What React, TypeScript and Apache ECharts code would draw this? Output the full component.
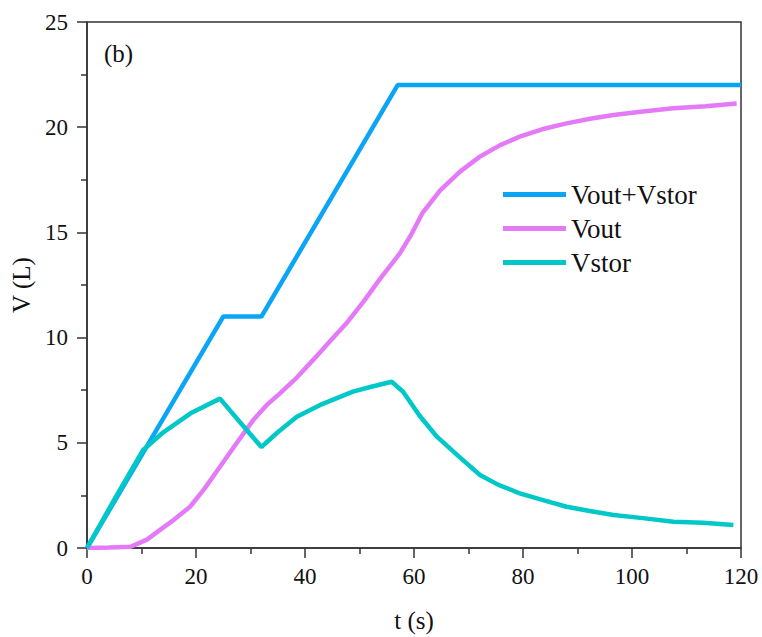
import React, { useEffect, useRef } from "react";
import * as echarts from "echarts";

const seriesNames = ["Vout+Vstor", "Vout", "Vstor"];
const colors = ["#0AA5F5", "#E57AF8", "#00C8C8"];

const vTotal: [number, number][] = [
  [0, 0], [25, 11], [32, 11], [57, 22], [120, 22],
];

const vOut: [number, number][] = [
  [0, 0], [4, 0.02], [8, 0.06], [11, 0.4], [13.4, 0.86], [16, 1.35], [18.9, 1.96], [21.5, 2.8],
  [24.4, 3.86], [27.5, 5.0], [30.5, 6.08], [33, 6.8], [35.4, 7.35], [38.5, 8.1], [41.5, 8.94],
  [44.5, 9.8], [47.6, 10.68], [50.7, 11.7], [53.8, 12.8], [57.4, 14.0], [59.5, 14.9], [61.5, 15.9],
  [64.8, 17.0], [68.5, 17.9], [72.1, 18.6], [75.8, 19.15], [79.4, 19.55], [83.5, 19.9],
  [88, 20.18], [92.3, 20.4], [96.6, 20.58], [102, 20.75], [107.6, 20.9], [113.5, 21.0], [119.2, 21.13],
];

const vStor: [number, number][] = [
  [0, 0], [5, 2.3], [10.3, 4.66], [14, 5.5], [19, 6.4], [24.4, 7.1], [28, 6.0], [32, 4.8],
  [35, 5.5], [38.5, 6.24], [42.8, 6.8], [48.8, 7.43], [52, 7.65], [55.9, 7.9], [58, 7.43],
  [61, 6.3], [64.2, 5.29], [68, 4.4], [72.1, 3.47], [75.5, 3.0], [79.4, 2.6], [84, 2.25],
  [88, 1.96], [92, 1.77], [96.6, 1.57], [102, 1.42], [107.6, 1.25], [113, 1.2], [118.6, 1.09],
];

const xTicks = [0, 20, 40, 60, 80, 100, 120];
const yTicks = [0, 5, 10, 15, 20, 25];

export default function App() {
  const ref = useRef<HTMLDivElement>(null);
  useEffect(() => {
    if (!ref.current) return;
    const chart = echarts.init(ref.current, null, { renderer: "svg" });
    const font = "Times New Roman";
    const axisColor = "#333";
    const tickStyle = { color: axisColor, width: 1.5 };
    chart.setOption({
      animation: false,
      backgroundColor: "#fff",
      textStyle: { fontFamily: font },
      grid: {
        left: 87, right: 21, top: 22, bottom: 89,
        containLabel: false, outerBoundsMode: "none",
        show: true, borderColor: axisColor, borderWidth: 1.5, backgroundColor: "transparent",
      },
      legend: {
        data: seriesNames,
        orient: "vertical",
        left: 503, top: 181, padding: 0,
        icon: "rect",
        itemWidth: 63, itemHeight: 5,
        itemGap: 7,
        textStyle: { fontFamily: font, fontSize: 27, lineHeight: 27, color: "#111" },
      },
      graphic: [
        { type: "text", left: 104, top: 41, style: { text: "(b)", fontFamily: font, fontSize: 25, fill: "#111" } },
      ],
      xAxis: {
        type: "value", min: xTicks[0], max: xTicks[xTicks.length - 1], interval: 20,
        name: "t (s)", nameLocation: "middle", nameGap: 60,
        nameTextStyle: { fontFamily: font, fontSize: 25, color: "#111" },
        axisLine: { show: true, lineStyle: tickStyle },
        axisTick: { show: true, inside: false, length: 10, lineStyle: tickStyle },
        minorTick: { show: true, splitNumber: 2, length: 6, lineStyle: tickStyle },
        axisLabel: { fontFamily: font, fontSize: 23, color: "#111", margin: 17 },
        splitLine: { show: false },
      },
      yAxis: {
        type: "value", min: yTicks[0], max: yTicks[yTicks.length - 1], interval: 5,
        name: "V (L)", nameLocation: "middle", nameGap: 53, nameRotate: 90,
        nameTextStyle: { fontFamily: font, fontSize: 25, color: "#111" },
        axisLine: { show: true, lineStyle: tickStyle },
        axisTick: { show: true, inside: false, length: 10, lineStyle: tickStyle },
        minorTick: { show: true, splitNumber: 2, length: 6, lineStyle: tickStyle },
        axisLabel: { fontFamily: font, fontSize: 23, color: "#111", margin: 19 },
        splitLine: { show: false },
      },
      series: [
        { name: seriesNames[0], type: "line", data: vTotal, showSymbol: false, color: colors[0], lineStyle: { width: 4.5, color: colors[0] } },
        { name: seriesNames[1], type: "line", data: vOut, showSymbol: false, color: colors[1], lineStyle: { width: 4.5, color: colors[1] } },
        { name: seriesNames[2], type: "line", data: vStor, showSymbol: false, color: colors[2], lineStyle: { width: 4.5, color: colors[2] } },
      ],
    });
    return () => chart.dispose();
  }, []);
  return <div ref={ref} style={{ width: 762, height: 637, position: "absolute", left: 0, top: 0 }} />;
}
